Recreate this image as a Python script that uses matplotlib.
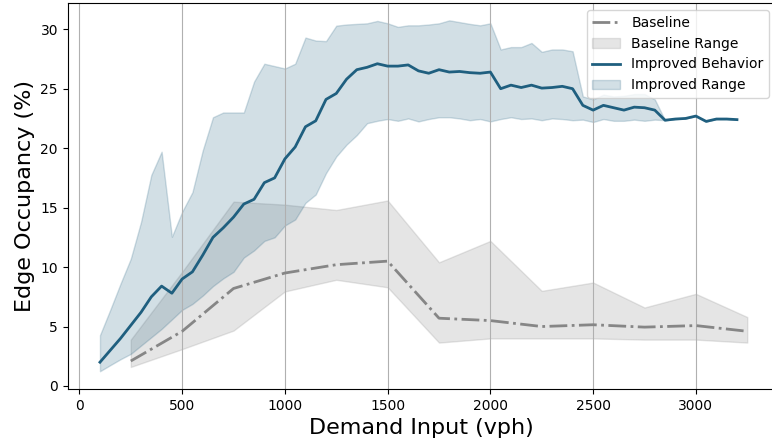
import numpy as np
import matplotlib
matplotlib.use('Agg')
import matplotlib.pyplot as plt

# baseline runs
base_x = [250, 500, 750, 1000, 1250, 1500, 1750, 2000, 2250, 2500, 2750, 3000, 3250]
base_mean = [2.1, 4.6, 8.2, 9.5, 10.2, 10.5, 5.7, 5.5, 5.0, 5.15, 4.95, 5.08, 4.6]
base_low = [1.6, 3.1, 4.66, 7.95, 8.93, 8.3, 3.65, 4.0, 4.0, 4.0, 3.9, 3.9, 3.65]
base_high = [3.9, 9.6, 15.5, 15.25, 14.8, 15.6, 10.4, 12.2, 8.0, 8.7, 6.6, 7.75, 5.8]

# improved runs
imp_x = list(range(100, 3201, 50))
imp_mean = [2.0, 3.0, 4.0, 5.1, 6.2, 7.5, 8.4, 7.8, 9.0, 9.6,
            11.0, 12.5, 13.3, 14.2, 15.3, 15.7, 17.1, 17.5, 19.1, 20.1,
            21.8, 22.3, 24.1, 24.6, 25.8, 26.6, 26.8, 27.1, 26.9, 26.9,
            27.0, 26.5, 26.3, 26.6, 26.4, 26.45, 26.35, 26.3, 26.4, 25.0,
            25.3, 25.1, 25.3, 25.05, 25.1, 25.2, 25.0, 23.6, 23.2, 23.6,
            23.4, 23.2, 23.45, 23.4, 23.2, 22.35, 22.45, 22.5, 22.7, 22.25,
            22.45, 22.45, 22.4]
imp_low = [1.24, 1.75, 2.25, 2.7, 3.4, 4.1, 4.8, 5.6, 6.4, 6.9,
           7.6, 8.4, 9.05, 9.6, 10.8, 11.4, 12.2, 12.5, 13.5, 14.0,
           15.4, 16.1, 17.9, 19.3, 20.3, 21.1, 22.1, 22.3, 22.45, 22.3,
           22.5, 22.25, 22.45, 22.6, 22.6, 22.5, 22.35, 22.45, 22.25, 22.45,
           22.6, 22.45, 22.5, 22.35, 22.5, 22.45, 22.35, 22.4, 22.2, 22.45,
           22.3, 22.3, 22.4, 22.3, 22.4, 22.35, 22.45, 22.5, 22.7, 22.25,
           22.45, 22.45, 22.4]
imp_high = [4.27, 6.4, 8.6, 10.7, 13.8, 17.75, 19.7, 12.55, 14.65, 16.3,
            19.8, 22.6, 23.0, 23.0, 23.0, 25.6, 27.1, 26.9, 26.7, 27.1,
            29.3, 29.05, 29.0, 30.3, 30.4, 30.45, 30.5, 30.7, 30.5, 30.2,
            30.33, 30.33, 30.4, 30.5, 30.75, 30.6, 30.45, 30.33, 30.5, 28.3,
            28.5, 28.5, 28.85, 28.1, 28.3, 28.3, 28.15, 24.35, 24.1, 24.5,
            24.35, 24.4, 24.55, 24.55, 24.1, 22.35, 22.45, 22.5, 22.7, 22.25,
            22.45, 22.45, 22.4]

blue = '#1f5f7f'

fig = plt.figure(figsize=(7.72, 4.42), dpi=100)
# right edge of the axes falls just past the image edge, as in the original
ax = fig.add_axes([0.0877, 0.12, 0.9175, 0.873])

ax.plot(base_x, base_mean, color='#868686', linestyle='-.', linewidth=2, label='Baseline')
ax.fill_between(base_x, base_low, base_high, color='gray', alpha=0.2, label='Baseline Range')
ax.plot(imp_x, imp_mean, color=blue, linewidth=2, label='Improved Behavior')
ax.fill_between(imp_x, imp_low, imp_high, color=blue, alpha=0.2, label='Improved Range')

ax.set_xlim(-57, 3390)
ax.set_ylim(-0.25, 32.2)
ax.set_xlabel('Demand Input (vph)', fontsize=16)
ax.set_ylabel('Edge Occupancy (%)', fontsize=16)
ax.grid(axis='x')
ax.legend(loc='upper right', fontsize=10)

fig.savefig('out.png', dpi=100)
